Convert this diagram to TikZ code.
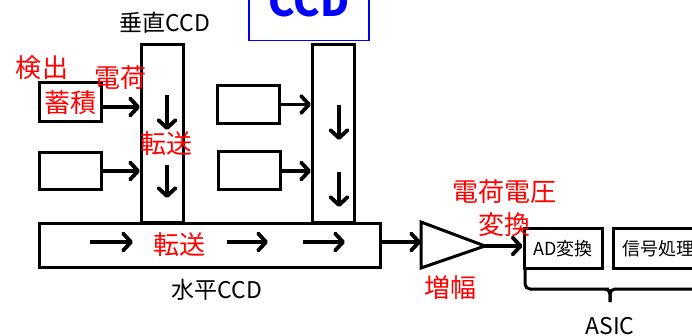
\documentclass[tikz,border=0pt]{standalone}
\usepackage{fontspec}
\setmainfont{Noto Sans CJK JP}
\usetikzlibrary{arrows.meta,calc}
\definecolor{lblred}{RGB}{255,0,0}
\definecolor{ttlblue}{RGB}{0,0,255}
\begin{document}
\begin{tikzpicture}[x=1pt,y=-1pt,
  box/.style={draw=black, line width=3pt, inner sep=0pt},
  arr/.style={line width=3.8pt, -{Straight Barb[length=8pt,width=17pt,line width=3.8pt,round]}},
  redlbl/.style={text=lblred, font=\fontsize{26}{30}\selectfont, inner sep=0pt},
  blklbl/.style={text=black, font=\fontsize{23}{28}\selectfont, inner sep=0pt},
  smalllbl/.style={text=black, font=\fontsize{18}{22}\selectfont, inner sep=0pt}]
\useasboundingbox (0,0) rectangle (692,336);
\fill[white] (0,0) rectangle (692,336);

% title box (cut by the top edge)
\node[draw=ttlblue, line width=1.5pt, minimum width=120pt, minimum height=80pt, anchor=south, inner sep=0pt] (titlebox) at (309,41.5) {};
\node[anchor=south, inner sep=0pt, text=ttlblue, font=\fontsize{40}{44}\selectfont\bfseries] (title) at (309,17) {CCD};

% vertical CCDs
\node[box, minimum width=42pt, minimum height=178pt] (v1) at (162.5,133.5) {};
\node[box, minimum width=42pt, minimum height=178pt] (v2) at (333.5,133.5) {};
% horizontal CCD
\node[box, minimum width=341pt, minimum height=44pt] (h) at (210,245.5) {};

% photodiodes
\node[box, minimum width=62pt, minimum height=39pt] (pd1) at (70.5,102) {};
\node[box, minimum width=62pt, minimum height=37pt] (pd2) at (70.5,171) {};
\node[box, minimum width=62pt, minimum height=38pt] (pd3) at (248.5,104.5) {};
\node[box, minimum width=62pt, minimum height=38pt] (pd4) at (249.5,171) {};

% arrows photodiode -> vertical CCD
\draw[arr] ([yshift=-5pt]pd1.east) -- ([yshift=-5pt]pd1.east -| v1.west);
\draw[arr] (pd2.east) -- (pd2.east -| v1.west);
\draw[arr] (pd3.east) -- (pd3.east -| v2.west);
\draw[arr] (pd4.east) -- (pd4.east -| v2.west);

% transfer arrows inside vertical CCDs
\draw[arr] (167,95) -- (167,130);
\draw[arr] (167,165) -- (167,198);
\draw[arr] (339,105) -- (339,140);
\draw[arr] (339,172) -- (339,207);

% transfer arrows inside horizontal CCD
\draw[arr] (90,242) -- (133,242);
\draw[arr] (227,242) -- (268,242);
\draw[arr] (303,242) -- (345,242);

% amplifier
\coordinate (ampin) at (421,242);
\coordinate (ampout) at (485,246);
\draw[line width=3pt, line join=miter] (421,222) -- (ampout) -- (421,268) -- cycle;

% ASIC boxes
\node[box, minimum width=78pt, minimum height=39pt] (ad) at (563,248.5) {};
\node[smalllbl] (adt) at (ad.center) {AD変換};
\node[box, minimum width=92pt, minimum height=39pt] (sig) at (659,248.5) {};
\node[smalllbl] (sigt) at (658,248.5) {信号処理};

\draw[arr] (h.east |- ampin) -- (ampin);
\draw[arr] (ampout) -- (ampout -| ad.west);

% ASIC brace
\draw[line width=3pt, rounded corners=5pt] (525,270) |- (604,289) -| (610,302);
\draw[line width=3pt, rounded corners=5pt] (700,289) -| (610,302);
\node[blklbl, anchor=north] (asic) at (610,317) {ASIC};

% labels
\node[blklbl] (vlabel) at (165,23) {垂直CCD};
\node[blklbl] (hlabel) at (217,290) {水平CCD};
\node[redlbl] (kenshutsu) at (42,68) {検出};
\node[redlbl] (denka) at (120,78) {電荷};
\node[redlbl] (chikuseki) at (70,103) {蓄積};
\node[redlbl] (tensou1) at (166,144) {転送};
\node[redlbl] (tensou2) at (179,245) {転送};
\node[redlbl] (zoufuku) at (450,288) {増幅};
\node[redlbl, align=center, font=\fontsize{26}{33}\selectfont] (henkan) at (504,208) {電荷電圧\\変換};
\end{tikzpicture}
\end{document}
